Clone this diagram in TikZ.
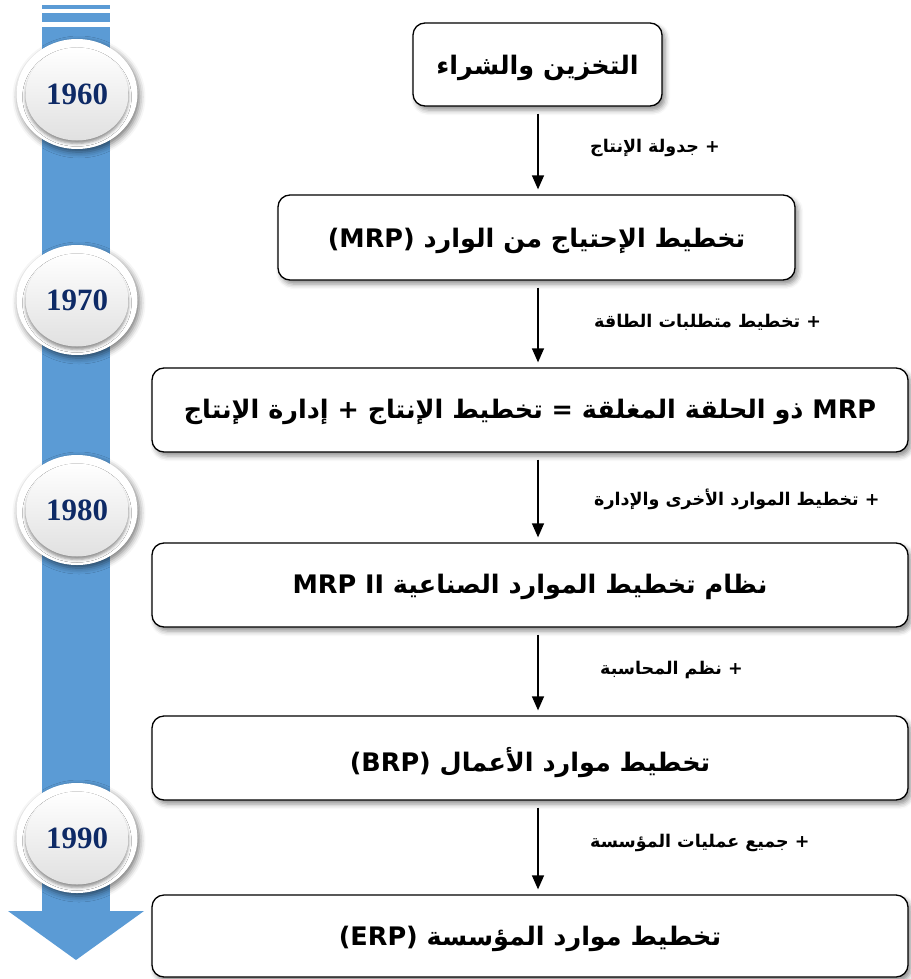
\documentclass[tikz,border=0pt]{standalone}
\usepackage{fontspec}
\setmainfont{Liberation Serif}
\newfontfamily\arabicfont[Script=Arabic]{DejaVu Sans}
\newfontfamily\yearfont{Liberation Serif}
\TeXXeTstate=1
\usetikzlibrary{arrows.meta,shapes.geometric,shadows.blur}

\definecolor{barblue}{RGB}{91,155,213}
\definecolor{yearblue}{RGB}{14,42,102}

% right-to-left bold Arabic text
\newcommand\artext[1]{{\arabicfont\bfseries\beginR #1\endR}}

\tikzset{
  stagebox/.style={draw=black, line width=1.3pt, rounded corners=12pt, fill=white,
    blur shadow={shadow xshift=3pt, shadow yshift=-4pt, shadow blur radius=5pt, shadow opacity=45}},
  stagetext/.style={font=\fontsize{25.5}{29}\selectfont, text=black, inner sep=0pt},
  steplabel/.style={font=\fontsize{17.5}{21}\selectfont, anchor=west, inner sep=0pt},
  flow/.style={line width=1.4pt, -{Triangle[length=14pt,width=12pt]},
    shorten <=7pt, shorten >=5pt},
  ring/.style={ellipse, minimum width=121pt, minimum height=110pt, fill=white, inner sep=0pt,
    blur shadow={shadow xshift=2pt, shadow yshift=-3pt, shadow blur radius=6pt, shadow opacity=55}},
  disc/.style={ellipse, minimum width=103pt, minimum height=93pt, inner sep=0pt,
    top color=white, bottom color=black!12,
    blur shadow={shadow xshift=0pt, shadow yshift=-3pt, shadow blur radius=3pt, shadow opacity=45}},
  yeartext/.style={font=\yearfont\bfseries\fontsize{31}{35}\selectfont, text=yearblue},
}

\begin{document}
\begin{tikzpicture}[x=1pt, y=-1pt]
\useasboundingbox (0,0) rectangle (910,979);

% timeline bar with its stripes and arrow head
\fill[barblue] (42,5) rectangle (110,9);
\fill[barblue] (42,13) rectangle (110,22);
\fill[barblue] (42,27) rectangle (110,912);
\fill[barblue] (8,911) -- (144,911) -- (76,960) -- cycle;

% year badges
\foreach \yr/\yy in {1960/94, 1970/300, 1980/510, 1990/838}{
  \node[ring] (ring\yr) at (77,\yy) {};
  \node[disc] (disc\yr) at (77,\yy) {};
  \node[yeartext] (year\yr) at (disc\yr.center) {\yr};
}

% stage boxes
\node[stagebox, minimum width=249pt, minimum height=83pt] (b1) at (537.5,64.5) {};
\node[stagebox, minimum width=517pt, minimum height=85pt] (b2) at (536.5,237.5) {};
\node[stagebox, minimum width=756pt, minimum height=84pt] (b3) at (530,410) {};
\node[stagebox, minimum width=756pt, minimum height=84pt] (b4) at (530,585) {};
\node[stagebox, minimum width=756pt, minimum height=84pt] (b5) at (530,758) {};
\node[stagebox, minimum width=756pt, minimum height=82pt] (b6) at (530,936) {};

% stage titles, set a little below each box centre
\node[stagetext] (b1t) at ([yshift=-3pt]b1.center) {\artext{التخزين والشراء}};
\node[stagetext] (b2t) at ([yshift=-3pt]b2.center) {\artext{تخطيط الإحتياج من الوارد \beginL(MRP)\endL}};
\node[stagetext] (b3t) at ([yshift=-2pt]b3.center) {\artext{\beginL MRP\endL{} ذو الحلقة المغلقة = تخطيط الإنتاج + إدارة الإنتاج}};
\node[stagetext] (b4t) at ([yshift=-2pt]b4.center) {\artext{نظام تخطيط الموارد الصناعية \beginL MRP II\endL}};
\node[stagetext] (b5t) at ([yshift=-5pt]b5.center) {\artext{تخطيط موارد الأعمال \beginL(BRP)\endL}};
\node[stagetext] (b6t) at ([yshift=-3pt]b6.center) {\artext{تخطيط موارد المؤسسة \beginL(ERP)\endL}};

% connectors along one vertical line
\coordinate (spine) at (538,0);
\draw[flow] (b1.south -| spine) -- (b2.north -| spine);
\draw[flow] (b2.south -| spine) -- (b3.north -| spine);
\draw[flow] (b3.south -| spine) -- (b4.north -| spine);
\draw[flow] (b4.south -| spine) -- (b5.north -| spine);
\draw[flow] (b5.south -| spine) -- (b6.north -| spine);

% what each step adds
\node[steplabel] (l1) at (590,148) {\artext{+ جدولة الإنتاج}};
\node[steplabel] (l2) at (594,322) {\artext{+ تخطيط متطلبات الطاقة}};
\node[steplabel] (l3) at (594,499) {\artext{+ تخطيط الموارد الأخرى والإدارة}};
\node[steplabel] (l4) at (600,670) {\artext{+ نظم المحاسبة}};
\node[steplabel] (l5) at (590,843) {\artext{+ جميع عمليات المؤسسة}};
\end{tikzpicture}
\end{document}
